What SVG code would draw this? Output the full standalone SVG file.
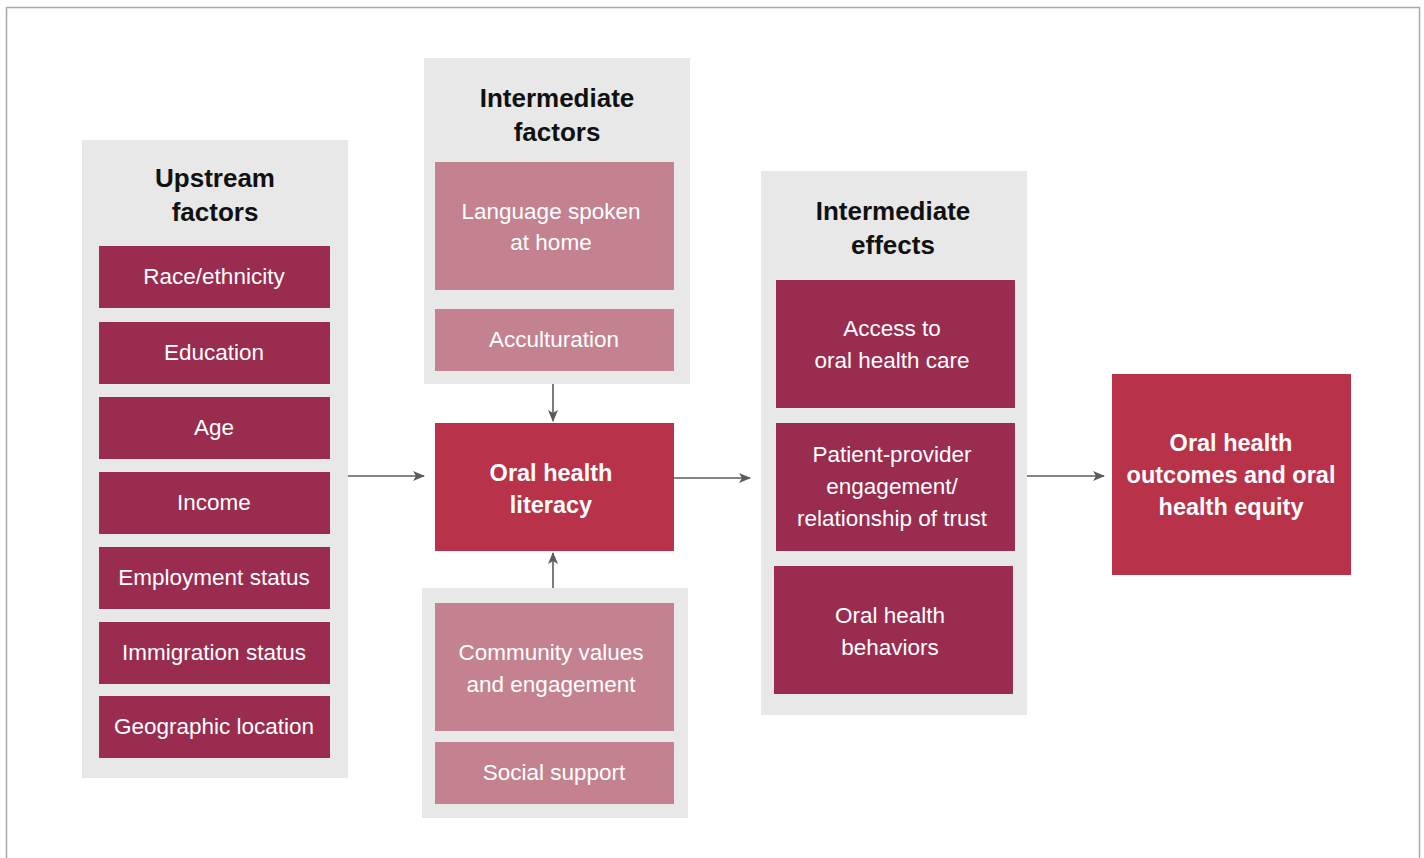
<svg xmlns="http://www.w3.org/2000/svg" width="1424" height="858" viewBox="0 0 1424 858">
<defs>
<style>
.panel{fill:#e7e8e7}
.dark{fill:#9a2c50}
.light{fill:#c48291}
.red{fill:#b83349}
.t{font-family:"Liberation Sans",Arial,sans-serif;font-size:22.5px;fill:#fff;text-anchor:middle}
.h{font-family:"Liberation Sans",Arial,sans-serif;font-size:26px;font-weight:bold;fill:#111;text-anchor:middle}
.b{font-family:"Liberation Sans",Arial,sans-serif;font-size:23.5px;font-weight:bold;fill:#fff;text-anchor:middle}
.c{stroke:#5a5b5c;stroke-width:1.6;fill:none;marker-end:url(#ah)}
</style>
<marker id="ah" viewBox="0 0 12 10" refX="11" refY="5" markerWidth="12" markerHeight="10" markerUnits="userSpaceOnUse" orient="auto">
<path d="M0,0 L12,5 L0,10 L3,5 Z" fill="#5a5b5c"/>
</marker>
</defs>
<rect x="0" y="0" width="1424" height="858" fill="#fff"/>
<rect x="6.5" y="7.5" width="1413" height="870" fill="none" stroke="#a9a9a9" stroke-width="1.5"/>

<g id="upstream">
<rect class="panel" x="82" y="140" width="266" height="638"/>
<text class="h" x="215" y="187">Upstream</text>
<text class="h" x="215" y="221">factors</text>
</g>
<g id="race"><rect class="dark" x="99" y="246" width="231" height="62"/><text class="t" x="214" y="284">Race/ethnicity</text></g>
<g id="education"><rect class="dark" x="99" y="322" width="231" height="62"/><text class="t" x="214" y="360">Education</text></g>
<g id="age"><rect class="dark" x="99" y="397" width="231" height="62"/><text class="t" x="214" y="435">Age</text></g>
<g id="income"><rect class="dark" x="99" y="472" width="231" height="62"/><text class="t" x="214" y="510">Income</text></g>
<g id="employment"><rect class="dark" x="99" y="547" width="231" height="62"/><text class="t" x="214" y="585">Employment status</text></g>
<g id="immigration"><rect class="dark" x="99" y="622" width="231" height="62"/><text class="t" x="214" y="660">Immigration status</text></g>
<g id="geographic"><rect class="dark" x="99" y="696" width="231" height="62"/><text class="t" x="214" y="734">Geographic location</text></g>

<g id="intermediate-factors">
<rect class="panel" x="424" y="58" width="266" height="326"/>
<text class="h" x="557" y="107">Intermediate</text>
<text class="h" x="557" y="141">factors</text>
</g>
<g id="language"><rect class="light" x="435" y="162" width="239" height="128"/><text class="t" x="551" y="219">Language spoken</text><text class="t" x="551" y="250">at home</text></g>
<g id="acculturation"><rect class="light" x="435" y="309" width="239" height="62"/><text class="t" x="554" y="347">Acculturation</text></g>

<g id="community-panel"><rect class="panel" x="422" y="588" width="266" height="230"/></g>
<g id="community"><rect class="light" x="435" y="603" width="239" height="128"/><text class="t" x="551" y="660">Community values</text><text class="t" x="551" y="692">and engagement</text></g>
<g id="social"><rect class="light" x="435" y="742" width="239" height="62"/><text class="t" x="554" y="780">Social support</text></g>

<g id="literacy"><rect class="red" x="435" y="423" width="239" height="128"/><text class="b" x="551" y="481">Oral health</text><text class="b" x="551" y="513">literacy</text></g>

<g id="intermediate-effects">
<rect class="panel" x="761" y="171" width="266" height="544"/>
<text class="h" x="893" y="220">Intermediate</text>
<text class="h" x="893" y="254">effects</text>
</g>
<g id="access"><rect class="dark" x="776" y="280" width="239" height="128"/><text class="t" x="892" y="336">Access to</text><text class="t" x="892" y="368">oral health care</text></g>
<g id="patient"><rect class="dark" x="776" y="423" width="239" height="128"/><text class="t" x="892" y="462">Patient-provider</text><text class="t" x="892" y="494">engagement/</text><text class="t" x="892" y="526">relationship of trust</text></g>
<g id="behaviors"><rect class="dark" x="774" y="566" width="239" height="128"/><text class="t" x="890" y="623">Oral health</text><text class="t" x="890" y="655">behaviors</text></g>

<g id="outcomes"><rect class="red" x="1112" y="374" width="239" height="201"/><text class="b" x="1231" y="451">Oral health</text><text class="b" x="1231" y="483">outcomes and oral</text><text class="b" x="1231" y="515">health equity</text></g>

<g id="connectors">
<line class="c" x1="348" y1="476" x2="424" y2="476"/>
<line class="c" x1="553" y1="384" x2="553" y2="421"/>
<line class="c" x1="553" y1="588" x2="553" y2="553"/>
<line class="c" x1="674" y1="478" x2="750" y2="478"/>
<line class="c" x1="1027" y1="476" x2="1104" y2="476"/>
</g>
</svg>
